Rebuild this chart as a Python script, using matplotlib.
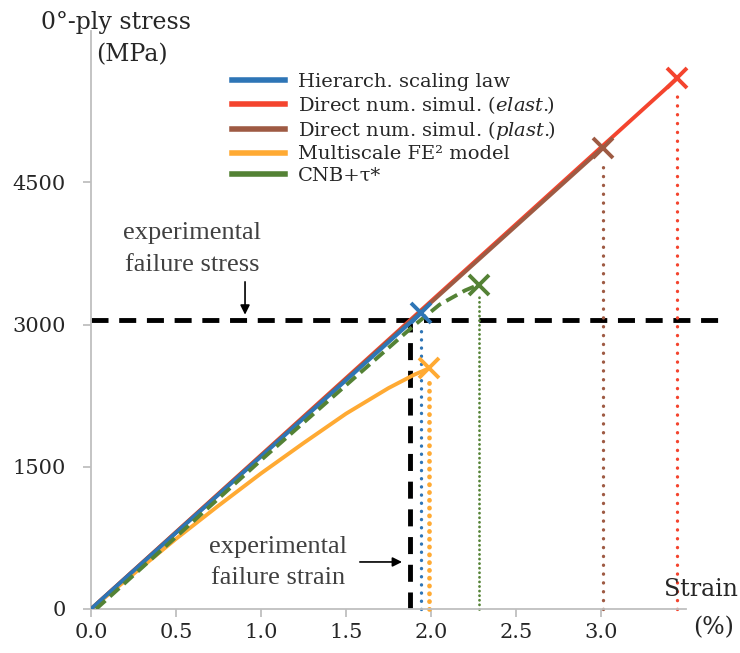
import matplotlib
matplotlib.use("Agg")
import matplotlib.pyplot as plt
import numpy as np

plt.rcParams['font.family'] = ['DejaVu Serif']
plt.rcParams['mathtext.fontset'] = 'dejavuserif'

# failure points (strain %, stress MPa)
hier_fail = (1.94, 3120)
elast_fail = (3.45, 5600)
plast_fail = (3.01, 4865)
fe2_fail = (1.99, 2540)
cnb_fail = (2.28, 3420)

# multiscale FE2 curve
fe2_strain = [0.0, 0.25, 0.5, 0.75, 1.0, 1.25, 1.5, 1.75, 1.9, 1.99]
fe2_stress = [0, 370, 740, 1090, 1430, 1750, 2060, 2330, 2470, 2540]

# CNB+tau* curve
cnb_strain = [0.03, 0.5, 1.0, 1.5, 1.9, 2.05, 2.2, 2.28]
cnb_stress = [0, 760, 1570, 2360, 2990, 3210, 3360, 3420]

exp_stress = 3045
exp_strain = 1.876

labels = ["Hierarch. scaling law",
          "Direct num. simul. ($\\it{elast.}\\!\\!$)",
          "Direct num. simul. ($\\it{plast.}\\!\\!$)",
          "Multiscale FE\u00b2 model",
          "CNB+\u03c4*"]
colors = ["#2e75b6", "#f4442e", "#9e5a43", "#ffaa33", "#548235"]

xticks = [0.0, 0.5, 1.0, 1.5, 2.0, 2.5, 3.0]
yticks = [0, 1500, 3000, 4500]

fig = plt.figure(figsize=(7.4, 6.53), dpi=100)
ax = fig.add_axes([0.123, 0.0674, 0.804, 0.8856])

lw = 2.8
ms = 15
mew = 2.8

# linear curves
ax.plot([0, elast_fail[0]], [0, elast_fail[1]], color=colors[1], lw=lw, zorder=3)
ax.plot([0, plast_fail[0]], [0, plast_fail[1]], color=colors[2], lw=lw, zorder=4)
ax.plot(fe2_strain, fe2_stress, color=colors[3], lw=lw, zorder=4)
ax.plot([0, hier_fail[0]], [0, hier_fail[1]], color=colors[0], lw=lw, zorder=5)
ax.plot(cnb_strain, cnb_stress, color=colors[4], lw=lw, dashes=(3.2, 1.6), zorder=6)

# failure markers and dotted drop lines
fails = [hier_fail, elast_fail, plast_fail, fe2_fail, cnb_fail]
dot_lw = [2.4, 2.4, 2.4, 3.4, 2.0]
dot_gap = [2.4, 2.6, 2.6, 1.6, 1.6]
for (sx, sy), c, dl, dg in zip(fails, colors, dot_lw, dot_gap):
    ax.plot([sx], [sy], marker='x', color=c, ms=ms, mew=mew, zorder=7, clip_on=False)
    ax.plot([sx, sx], [0, sy - 120], color=c, lw=dl, ls=(0, (0.05, dg)), zorder=2,
            dash_capstyle='round', clip_on=False)

# experimental failure lines
ax.plot([0, 3.7], [exp_stress, exp_stress], color='black', lw=3.5,
        dashes=(3.5, 2.2), zorder=1, clip_on=False)
ax.plot([exp_strain, exp_strain], [0, exp_stress], color='black', lw=3.5,
        dashes=(3.5, 2.2), zorder=1)

# annotations
txt_col = '#404040'
ax.text(0.594, 3966, "experimental", ha='center', va='center', fontsize=19,
        family='Liberation Serif', color=txt_col)
ax.text(0.594, 3629, "failure stress", ha='center', va='center', fontsize=19,
        family='Liberation Serif', color=txt_col)
ax.annotate("", xy=(0.906, exp_stress + 30), xytext=(0.906, 3480),
            arrowprops=dict(arrowstyle='-|>', color='black', lw=1.2, mutation_scale=14))
ax.text(1.10, 654, "experimental", ha='center', va='center', fontsize=19,
        family='Liberation Serif', color=txt_col)
ax.text(1.10, 327, "failure strain", ha='center', va='center', fontsize=19,
        family='Liberation Serif', color=txt_col)
ax.annotate("", xy=(exp_strain - 0.03, 496), xytext=(1.565, 496),
            arrowprops=dict(arrowstyle='-|>', color='black', lw=1.2, mutation_scale=14))

# axes styling
ax.set_xlim(0, 3.5)
ax.set_ylim(0, 6100)
ax.set_xticks(xticks)
ax.set_xticklabels([f"{v:.1f}" for v in xticks])
ax.set_yticks(yticks)
ax.spines['top'].set_visible(False)
ax.spines['right'].set_visible(False)
for s in ['left', 'bottom']:
    ax.spines[s].set_color('#bfbfbf')
    ax.spines[s].set_linewidth(1.3)
ax.tick_params(axis='both', colors='#bfbfbf', labelcolor='#262626', length=6,
               width=1.3, labelsize=15)
ax.tick_params(axis='y', pad=12)
ax.tick_params(axis='x', pad=4)

# legend
handles = [plt.Line2D([], [], color=c, lw=4) for c in colors]
fig.legend(handles, labels, loc='upper left', bbox_to_anchor=(0.3135, 0.888),
           frameon=False, fontsize=14, handlelength=2.73, handletextpad=0.67,
           labelspacing=0.16, borderaxespad=0, borderpad=0, labelcolor='#262626')

# axis titles
fig.text(116 / 740, 1 - 22 / 653, "0°-ply stress", ha='center', va='center',
         fontsize=17, color='#262626')
fig.text(132 / 740, 1 - 55 / 653, "(MPa)", ha='center', va='center',
         fontsize=17, color='#262626')
fig.text(701 / 740, 1 - 590 / 653, "Strain", ha='center', va='center',
         fontsize=17, color='#262626')
fig.text(714 / 740, 1 - 628 / 653, "(%)", ha='center', va='center',
         fontsize=17, color='#262626')

fig.savefig("out.png", dpi=100)
